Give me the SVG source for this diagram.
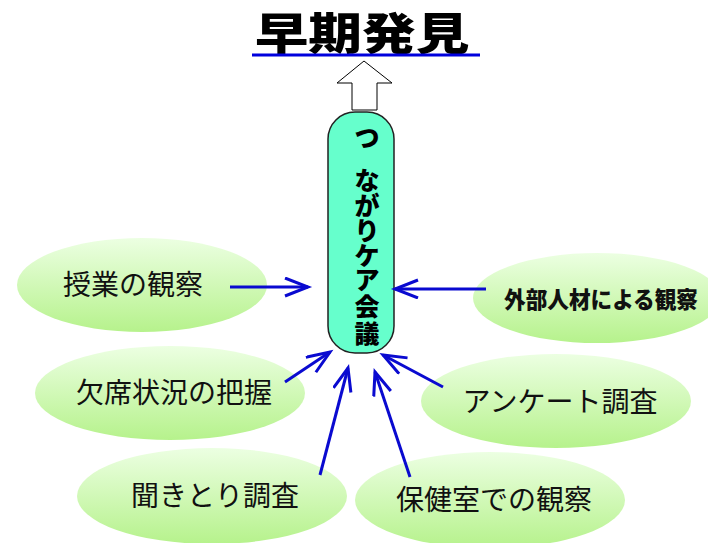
<svg xmlns="http://www.w3.org/2000/svg" width="708" height="543" viewBox="0 0 708 543">
<defs>
<linearGradient id="g" x1="0" y1="0" x2="0" y2="1">
<stop offset="0" stop-color="#ecffe2"/>
<stop offset="1" stop-color="#b6f28c"/>
</linearGradient>
<marker id="ah" markerUnits="userSpaceOnUse" markerWidth="30" markerHeight="24" refX="24" refY="10" orient="auto" viewBox="0 0 30 24">
<path d="M1,1 L24,10 L1,19" fill="none" stroke="#0a0ad0" stroke-width="3"/>
</marker>
<style>
.lab{font-family:"Noto Sans CJK JP","Noto Sans",sans-serif;font-size:28px;fill:#111;text-anchor:middle}
.bold{font-weight:900;font-size:23px;text-anchor:start}
.ell{fill:url(#g)}
.con{stroke:#0a0ad0;stroke-width:3;fill:none;marker-end:url(#ah)}
.vt{font-family:"Noto Sans CJK JP",sans-serif;font-weight:900;font-size:25px;fill:#000;text-anchor:middle}
</style>
</defs>
<rect width="708" height="543" fill="#fff"/>
<g id="title">
<text transform="translate(362,50) scale(1.22,1)" font-family="Noto Sans CJK JP,sans-serif" font-weight="900" font-size="44" text-anchor="middle" fill="#000">早期発見</text>
<line x1="252" y1="55" x2="480" y2="55" stroke="#0000dd" stroke-width="3"/>
</g>
<g id="uparrow">
<path d="M364,61 L392,83 L377,83 L377,110 L352,110 L352,83 L337,83 Z" fill="#fff" stroke="#000" stroke-width="1"/>
</g>
<g id="center">
<rect x="328" y="112" width="66" height="241" rx="27" ry="27" fill="#66ffcc" stroke="#222" stroke-width="1.5"/>
<text class="vt" x="367" y="147" font-size="32">つ</text>
<text class="vt" x="367" y="190">な</text>
<text class="vt" x="367" y="215">が</text>
<text class="vt" x="367" y="240">り</text>
<text class="vt" x="367" y="265">ケ</text>
<text class="vt" x="367" y="289">ア</text>
<text class="vt" x="367" y="316">会</text>
<text class="vt" x="367" y="343">議</text>
</g>
<g id="n1"><ellipse class="ell" cx="142" cy="285" rx="125" ry="47"/><text class="lab" x="133" y="295">授業の観察</text></g>
<g id="n2"><ellipse class="ell" cx="170" cy="393" rx="135" ry="47"/><text class="lab" x="174" y="403">欠席状況の把握</text></g>
<g id="n3"><ellipse class="ell" cx="212" cy="496" rx="135" ry="48"/><text class="lab" x="215" y="506">聞きとり調査</text></g>
<g id="n4"><ellipse class="ell" cx="490" cy="500" rx="135" ry="48"/><text class="lab" x="494" y="510">保健室での観察</text></g>
<g id="n5"><ellipse class="ell" cx="556" cy="401" rx="135" ry="47"/><text class="lab" x="560" y="412">アンケート調査</text></g>
<g id="n6"><ellipse class="ell" cx="597" cy="298" rx="124" ry="45"/><text class="lab bold" x="504" y="308" textLength="194" lengthAdjust="spacingAndGlyphs">外部人材による観察</text></g>
<g id="connectors">
<line class="con" x1="230" y1="287" x2="308" y2="287"/>
<line class="con" x1="285" y1="382" x2="330" y2="352"/>
<line class="con" x1="320" y1="475" x2="348" y2="368"/>
<line class="con" x1="410" y1="477" x2="375" y2="372"/>
<line class="con" x1="443" y1="387" x2="383" y2="355"/>
<line class="con" x1="486" y1="289" x2="395" y2="289"/>
</g>
</svg>
